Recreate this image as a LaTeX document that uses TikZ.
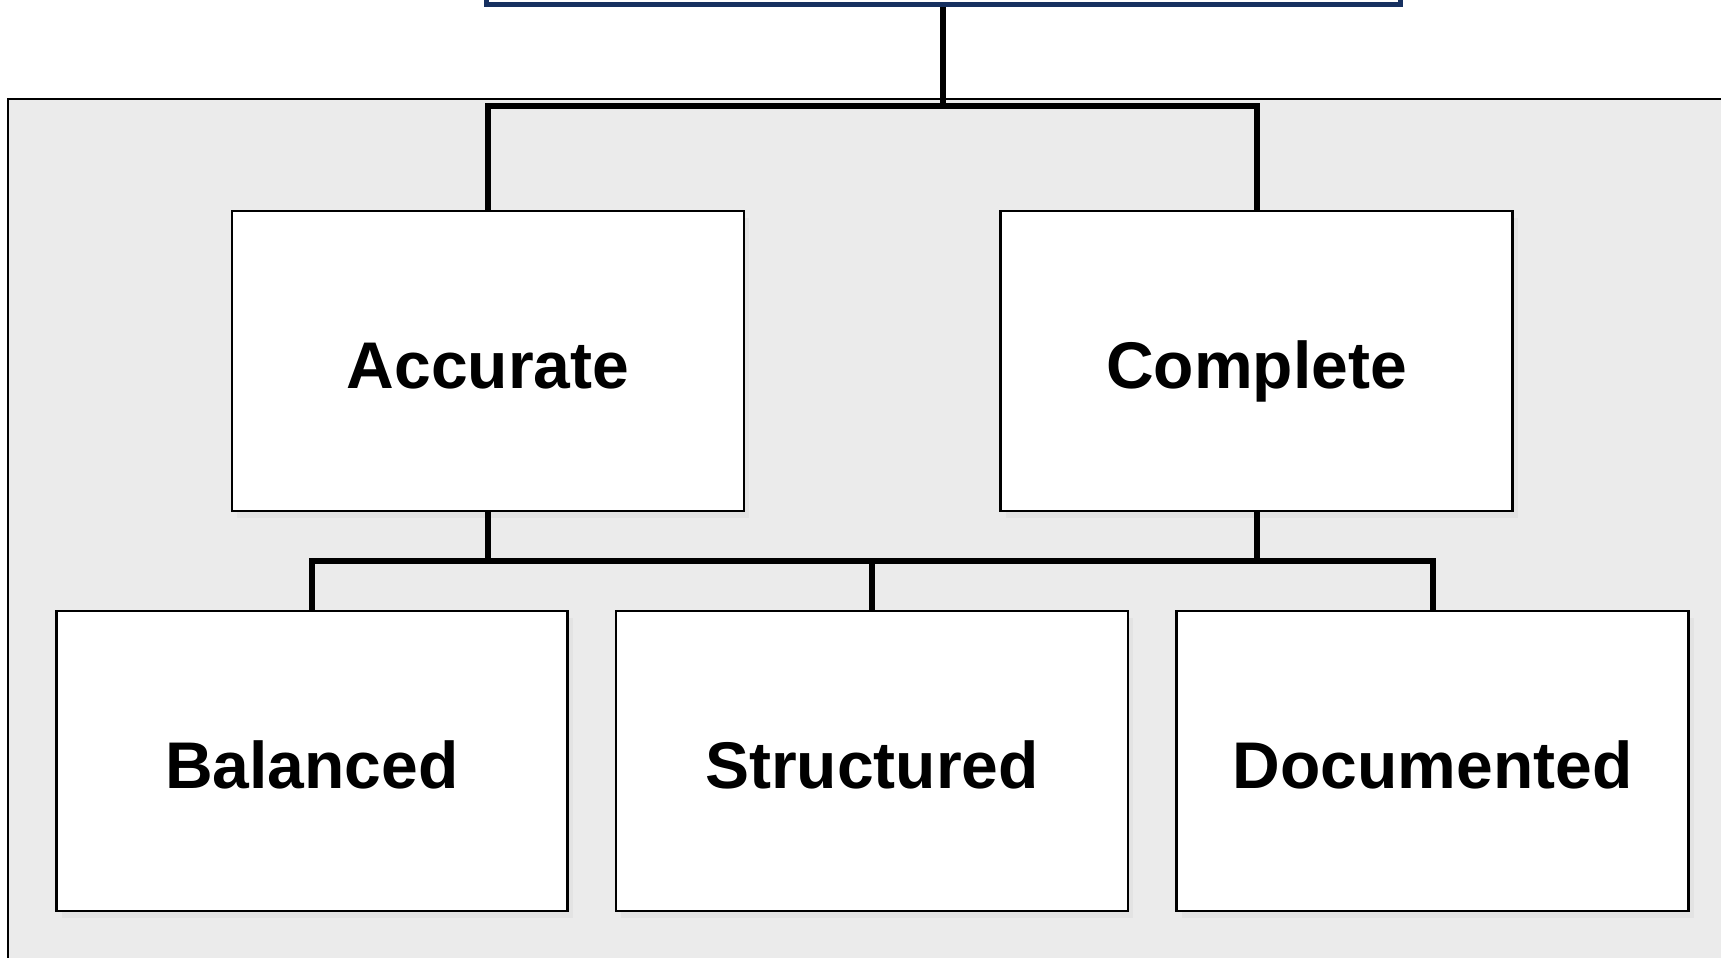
\documentclass[tikz,border=0pt]{standalone}
\usepackage{fontspec}
\setmainfont{Liberation Sans}
\usepackage{xcolor}
\usepackage{tikz}
\usetikzlibrary{positioning,shadows}

\definecolor{navy}{HTML}{163060}

\begin{document}
\begin{tikzpicture}[
  x=1pt, y=-1pt,
  font=\fontsize{66}{80}\selectfont\bfseries,
  node distance=46pt and 46pt,
  box/.style={draw, line width=2.5pt, fill=white, minimum width=512pt, minimum height=300pt, inner sep=0pt,
    text height=55pt, text depth=0pt,
    drop shadow={shadow xshift=5pt, shadow yshift=-7pt, fill=black!11, opacity=1}},
  rootbox/.style={draw=navy, line width=5pt, fill=white, minimum width=914pt, minimum height=200pt},
  panel/.style={draw, line width=2pt, fill=black!8},
  link/.style={line width=6pt, line join=miter}
]
  \useasboundingbox (0,0) rectangle (1721,958);
  \clip (0,0) rectangle (1721,958);

  % grey panel behind the tree
  \draw[panel] (8,99) rectangle (1760,1000);
  \node[rootbox] (root) at (943,-95) {};

  \node[box] (acc) at (488,361) {Accurate};
  \node[box, right=254pt of acc] (cmp) {Complete};
  \node[box, minimum width=511pt] (bal) at (312,761) {Balanced};
  \node[box, right=of bal] (str) {Structured};
  \node[box, right=of str] (doc) {Documented};

  \coordinate (top) at (943,106);
  \coordinate (bar) at (str.north |- 0,561);

  \draw[link] (root.south) -- (top);
  \draw[link] (acc.north) |- (top) -| (cmp.north);
  \draw[link] (acc.south) -- (acc.south |- bar);
  \draw[link] (cmp.south) -- (cmp.south |- bar);
  \draw[link] (bal.north) |- (bar) -| (doc.north);
  \draw[link] (str.north) -- (bar);
\end{tikzpicture}
\end{document}
